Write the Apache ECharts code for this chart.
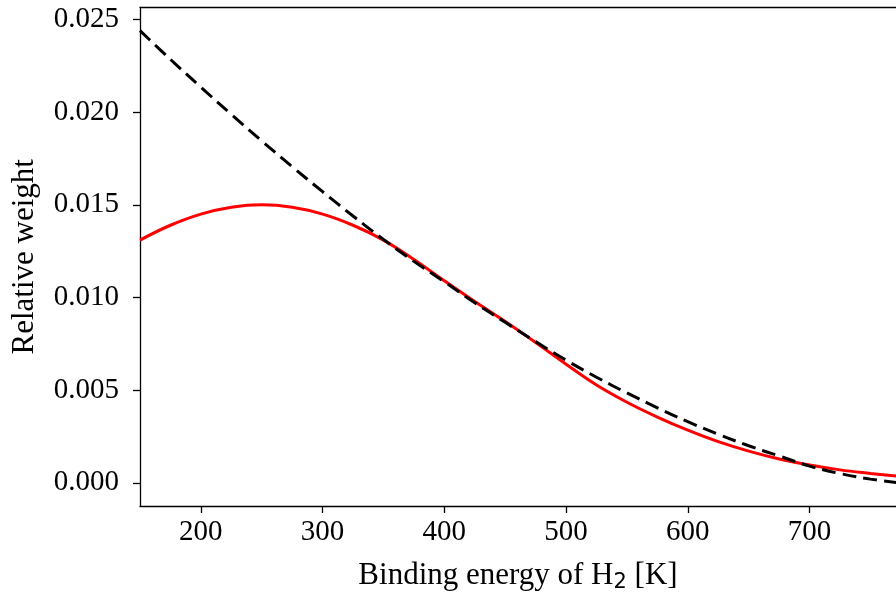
<!DOCTYPE html>
<html>
<head>
<meta charset="utf-8">
<script src="https://cdn.jsdelivr.net/npm/echarts@6/dist/echarts.min.js"></script>
<style>
html,body{margin:0;padding:0;background:#fff;}
#chart{width:896px;height:593px;}
</style>
</head>
<body>
<div id="chart"></div>
<script>
const energies = [150,175,200,225,250,275,300,325,350,375,400,425,450,475,500,525,550,575,600,625,650,675,700,725,750,775];
const redWeights = [0.01310,0.01390,0.01450,0.01487,0.01500,0.01487,0.01450,0.01390,0.01310,0.01205,0.01090,0.00978,0.00870,0.00757,0.00640,0.00528,0.00435,0.00355,0.00284,0.00222,0.00171,0.00129,0.00096,0.00070,0.00051,0.00034];
const dashedWeights = [0.02440,0.02285,0.02135,0.01988,0.01845,0.01706,0.01571,0.01440,0.01313,0.01195,0.01085,0.00972,0.00866,0.00762,0.00662,0.00570,0.00485,0.00405,0.00330,0.00262,0.00200,0.00145,0.00090,0.00050,0.00020,-0.00002];
const xTicks = [200,300,400,500,600,700];
const yTicks = [0.000,0.005,0.010,0.015,0.020,0.025];
const xName = 'Binding energy of H{sub|2} [K]';
const yName = 'Relative weight';

const font = 'Liberation Serif';
const chart = echarts.init(document.getElementById('chart'), null, {renderer:'canvas'});
const axisLine = {show:true, onZero:false, lineStyle:{color:'#000', width:1.3}};
chart.setOption({
  animation:false,
  backgroundColor:'#fff',
  grid:{left:140, top:7.5, right:0, bottom:87, containLabel:false, outerBoundsMode:'none'},
  xAxis:[{
    type:'value', min:150, max:771,
    axisLine: axisLine,
    axisTick:{show:true, inside:false, length:7, customValues:xTicks, lineStyle:{color:'#000', width:1.3}},
    axisLabel:{show:true, customValues:xTicks, margin:12, color:'#000', fontFamily:font, fontSize:29},
    splitLine:{show:false},
    name:xName, nameLocation:'middle', nameGap:53,
    nameTextStyle:{color:'#000', fontFamily:font, fontSize:31,
      rich:{sub:{fontFamily:'DejaVu Sans', fontSize:21, color:'#000', padding:[13,0,0,0]}}}
  },{
    type:'value', position:'top', min:150, max:771,
    axisLine: axisLine, axisTick:{show:false}, axisLabel:{show:false}, splitLine:{show:false}
  }],
  yAxis:{
    type:'value', min:-0.00125, max:0.02565,
    axisLine: axisLine,
    axisTick:{show:true, length:7, customValues:yTicks, lineStyle:{color:'#000', width:1.3}},
    axisLabel:{show:true, customValues:yTicks, margin:21, color:'#000', fontFamily:font, fontSize:29,
      formatter:v=>v.toFixed(3)},
    splitLine:{show:false},
    name:yName, nameLocation:'middle', nameGap:100,
    nameTextStyle:{color:'#000', fontFamily:font, fontSize:31}
  },
  series:[{
    type:'line', name:'red', data:energies.map((e,i)=>[e,redWeights[i]]),
    showSymbol:false, smooth:0.4, clip:true,
    lineStyle:{color:'#ff0000', width:3}
  },{
    type:'line', name:'dashed', data:energies.map((e,i)=>[e,dashedWeights[i]]),
    showSymbol:false, smooth:0.4, clip:true,
    lineStyle:{color:'#000', width:3, type:[14,7]}
  }]
});
</script>
</body>
</html>
